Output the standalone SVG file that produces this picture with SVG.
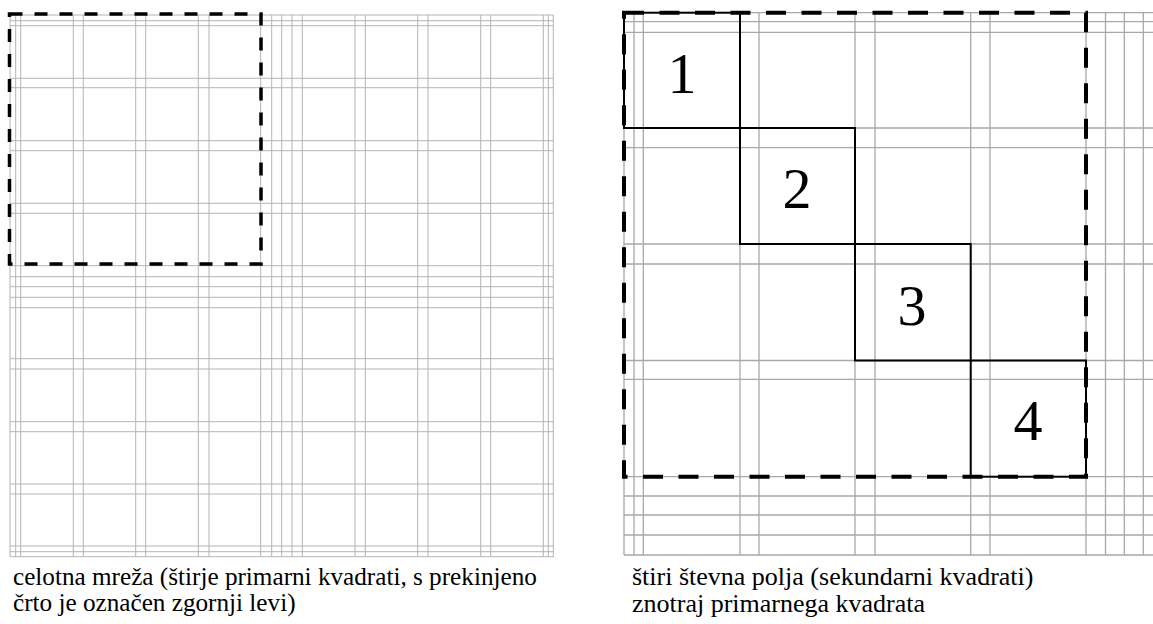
<svg xmlns="http://www.w3.org/2000/svg" width="1153" height="624" viewBox="0 0 1153 624">
<style>
.gl{stroke:#b4b4b4;stroke-width:1;fill:none}
.gr{stroke:#a8a8a8;stroke-width:1.3;fill:none}
.dashL{stroke:#000;stroke-width:3.5;fill:none;stroke-dasharray:13 12}
.dashR{stroke:#000;stroke-width:4;fill:none;stroke-dasharray:20 15.5}
.sq{stroke:#000;stroke-width:2;fill:none}
.num{font-family:'Liberation Serif','Times New Roman','DejaVu Serif',serif;font-size:58px;fill:#000;text-anchor:middle}
.cap{font-family:'Liberation Serif','Times New Roman','DejaVu Serif',serif;font-size:25.2px;fill:#000}
.capR{font-size:26px}
</style>
<g id="left-grid">
<path class="gl" d="M10,15V557M15.7,15V557M20.7,15V557M73.3,15V557M83.3,15V557M135.7,15V557M145.7,15V557M198.3,15V557M209,15V557M260.7,15V557M271.7,15V557M281.7,15V557M292,15V557M302.3,15V557M355,15V557M365.3,15V557M417.7,15V557M428,15V557M480.7,15V557M490.7,15V557M543.3,15V557M548.3,15V557M553.3,15V557"/>
<path class="gl" d="M10,15H553.3M10,20.7H553.3M10,25.7H553.3M10,78.3H553.3M10,87.7H553.3M10,140.7H553.3M10,150.7H553.3M10,203.3H553.3M10,213.3H553.3M10,265.7H553.3M10,276.7H553.3M10,286.7H553.3M10,297.3H553.3M10,307.7H553.3M10,358.7H553.3M10,369H553.3M10,421.7H553.3M10,431.7H553.3M10,484H553.3M10,494H553.3M10,546H553.3M10,551.7H553.3M10,556.7H553.3"/>
</g>
<g id="left-primary">
<path class="dashL" d="M9.5,14H261V264H9.5Z"/>
</g>
<g id="right-grid">
<path class="gr" d="M624,12.7V555M634,12.7V555M643.3,12.7V555M740,12.7V555M759,12.7V555M855,12.7V555M875,12.7V555M970.7,12.7V555M990,12.7V555M1086,12.7V555M1105.5,12.7V555M1124.3,12.7V555M1143.3,12.7V555"/>
<path class="gr" d="M624,12.7H1153M624,21.7H1153M624,32.3H1153M624,128H1153M624,147.7H1153M624,244H1153M624,264H1153M624,360.5H1153M624,379.3H1153M624,476.7H1153M624,496H1153M624,515H1153M624,535H1153M624,555H1153"/>
</g>
<g id="field-1">
<rect class="sq" x="624" y="12.7" width="116" height="115.3"/>
<text class="num" x="682" y="93">1</text>
</g>
<g id="field-2">
<rect class="sq" x="740" y="128" width="115" height="116"/>
<text class="num" x="797" y="208">2</text>
</g>
<g id="field-3">
<rect class="sq" x="855" y="244" width="115.7" height="116.5"/>
<text class="num" x="912" y="325">3</text>
</g>
<g id="field-4">
<rect class="sq" x="970.7" y="360.5" width="115.3" height="116.2"/>
<text class="num" x="1028" y="440">4</text>
</g>
<g id="right-primary">
<path class="dashR" d="M624,12.7H1086V476.7H624Z"/>
</g>
<g id="captions">
<text class="cap" x="13" y="585">celotna mreža (štirje primarni kvadrati, s prekinjeno</text>
<text class="cap" x="13" y="611">črto je označen zgornji levi)</text>
<text class="cap capR" x="632" y="585">štiri števna polja (sekundarni kvadrati)</text>
<text class="cap capR" x="632" y="612">znotraj primarnega kvadrata</text>
</g>
</svg>
